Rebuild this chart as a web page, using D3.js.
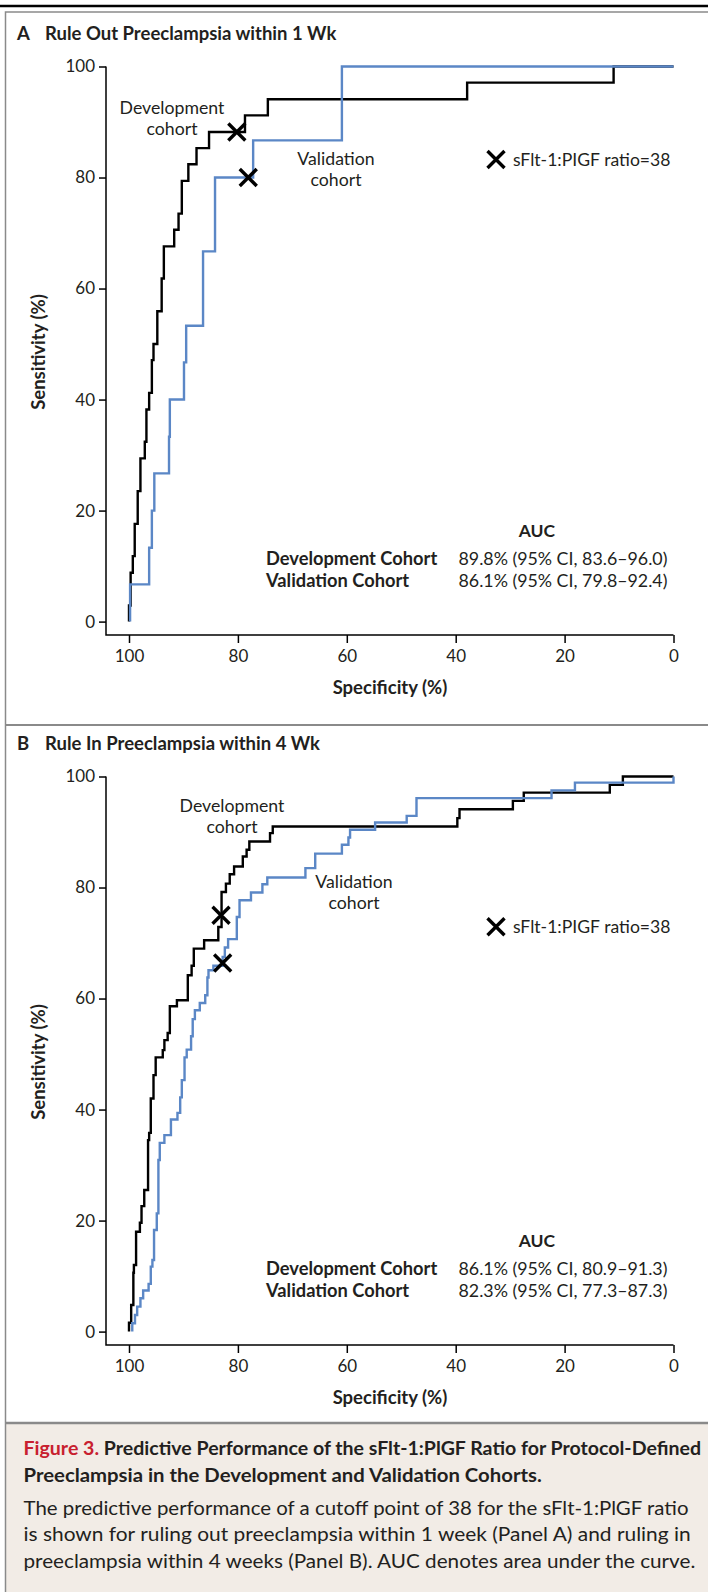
<!DOCTYPE html>
<html>
<head>
<meta charset="utf-8">
<script src="https://cdn.jsdelivr.net/npm/d3@7"></script>
<style>
  body { margin: 0; background: #fff; }
  svg text { font-family: Lato, "Open Sans", sans-serif; fill: #231f20; }
</style>
</head>
<body>
<script>
// ---- data ----
var tickValues = [0, 20, 40, 60, 80, 100];
var cohortNames = ["Development Cohort", "Validation Cohort"];

// Panel A: rule out within 1 wk (step points: specificity, sensitivity)
var devOutSpec = [100, 99.7, 99.3, 98.95, 98.4, 97.9, 97.1, 96.8, 96.3, 95.8, 95.5, 94.8, 94.0, 93.6, 91.7, 90.9, 90.3, 89.1, 87.6, 85.3, 78.7, 74.5, 37.9, 11, 0];
var devOutSens = [0, 2.9, 8.8, 11.8, 17.6, 23.5, 29.4, 32.4, 38.2, 41.2, 47.1, 50, 55.9, 61.8, 67.6, 70.6, 73.5, 79.4, 82.4, 85.3, 88.2, 91.2, 94.1, 97.1, 100];
var valOutSpec = [99.8, 96.3, 95.8, 95.35, 92.65, 92.5, 89.9, 89.5, 86.4, 84.2, 77.2, 60.9, 0];
var valOutSens = [0, 6.7, 13.3, 20, 26.7, 33.3, 40, 46.7, 53.3, 66.7, 80, 86.7, 100];
var cutOutSpec = [80.2, 78.1];
var cutOutSens = [88.2, 80];
var aucOut = ["89.8% (95% CI, 83.6\u201396.0)", "86.1% (95% CI, 79.8\u201392.4)"];

// Panel B: rule in within 4 wk
var devInSpec = [100, 99.6, 99.2, 99.1, 98.7, 98.0, 97.7, 97.2, 96.5, 96.3, 96.0, 95.5, 95.1, 93.8, 93.5, 92.9, 92.5, 91.2, 89.2, 88.5, 88.1, 86.2, 83.6, 83.0, 82.2, 81.5, 80.7, 79.1, 78.4, 77.9, 74.1, 73.6, 39.7, 39.3, 29.5, 27.5, 11.7, 9.3, 0];
var devInSens = [0, 1.6, 4.8, 10.6, 12.0, 18.0, 19.6, 22.6, 25.5, 34.5, 35.8, 42.0, 46.2, 49.4, 50.7, 52.5, 53.8, 58.6, 59.7, 64.2, 65.9, 69.0, 70.5, 72.9, 79.2, 80.7, 82.4, 83.8, 85.6, 86.8, 88.3, 89.8, 91.0, 92.5, 94.1, 95.6, 97.1, 98.5, 100];
var valInSpec = [99.4, 98.9, 98.5, 97.9, 97.4, 96.4, 96.0, 95.7, 95.4, 94.9, 94.6, 94.35, 93.5, 92.3, 91.1, 90.6, 90.3, 89.8, 89.4, 88.6, 88.3, 87.9, 87.0, 86.0, 85.6, 85.4, 84.5, 82.8, 82.4, 81.8, 80.2, 79.7, 77.6, 75.5, 74.6, 67.6, 65.8, 60.9, 59.7, 59.4, 54.8, 49.0, 47.2, 22.4, 18.1, 0, 0];
var valInSens = [0, 1.5, 3.0, 4.5, 6.0, 7.4, 8.6, 11.7, 12.9, 18.3, 21.3, 30.9, 34.0, 35.4, 38.2, 39.4, 42.2, 45.3, 49.4, 50.8, 53.2, 56.3, 57.9, 59.2, 60.6, 63.8, 65.1, 65.9, 67.5, 69.2, 70.7, 74.7, 77.7, 79.1, 80.6, 81.8, 83.5, 86.1, 87.7, 89.0, 90.4, 91.7, 92.9, 96.1, 97.5, 98.9, 100];
var cutInSpec = [83.1, 82.8];
var cutInSens = [75.0, 66.4];
var aucIn = ["86.1% (95% CI, 80.9\u201391.3)", "82.3% (95% CI, 77.3\u201387.3)"];

var captionBold = ["Predictive Performance of the sFlt-1:PlGF Ratio for Protocol-Defined",
                   "Preeclampsia in the Development and Validation Cohorts."];
var captionBody = ["The predictive performance of a cutoff point of 38 for the sFlt-1:PlGF ratio",
                   "is shown for ruling out preeclampsia within 1 week (Panel A) and ruling in",
                   "preeclampsia within 4 weeks (Panel B). AUC denotes area under the curve."];

// ---- layout ----
var W = 708, H = 1592;
var blue = "#5b87c6", grey = "#8a8a8a";

var svg = d3.select("body").append("svg")
    .attr("width", W)
    .attr("height", H);

// scales shared by both panels (panel B is shifted down)
var x = d3.scaleLinear().domain([100, 0]).range([129, 673.5]);
var y = d3.scaleLinear().domain([0, 100]).range([621.6, 66.5]);
var axisY = 635, axisX = 106;

// caption box + frame
svg.append("rect").attr("x", 5).attr("y", 1423).attr("width", W).attr("height", H - 1423)
    .attr("fill", "#f2ece6");
svg.append("line").attr("x1", 0).attr("x2", W).attr("y1", 6).attr("y2", 6)
    .attr("stroke", "#000").attr("stroke-width", 2.5);
svg.append("path").attr("d", "M5.5," + H + "V12H" + W)
    .attr("fill", "none").attr("stroke", grey).attr("stroke-width", 1.5);
svg.append("line").attr("x1", 5).attr("x2", W).attr("y1", 725).attr("y2", 725)
    .attr("stroke", grey).attr("stroke-width", 2);
svg.append("line").attr("x1", 5).attr("x2", W).attr("y1", 1423).attr("y2", 1423)
    .attr("stroke", grey).attr("stroke-width", 2.5);

var stepLine = d3.line()
    .x(function (d) { return x(d[0]); })
    .y(function (d) { return y(d[1]); })
    .curve(d3.curveStepBefore);

function xMark(g, cx, cy) {
    g.append("path")
        .attr("transform", "translate(" + cx + "," + cy + ")")
        .attr("d", "M-8.5,-8.5L8.5,8.5M-8.5,8.5L8.5,-8.5")
        .attr("stroke", "#000").attr("stroke-width", 3.4).attr("fill", "none");
}

function drawPanel(p) {
    var g = svg.append("g").attr("transform", "translate(0," + p.top + ")");

    // title
    g.append("text").attr("x", 17).attr("y", 40)
        .style("font-weight", 700).style("font-size", "18.5px").text(p.letter);
    g.append("text").attr("x", 45).attr("y", 40)
        .style("font-weight", 700).style("font-size", "18.5px").text(p.title);

    // axes
    var yAxis = g.append("g").attr("transform", "translate(" + axisX + ",0)")
        .call(d3.axisLeft(y).tickValues(tickValues).tickSize(7).tickPadding(4));
    var xAxis = g.append("g").attr("transform", "translate(0," + axisY + ")")
        .call(d3.axisBottom(x).tickValues(tickValues).tickSize(8).tickPadding(7));
    [yAxis, xAxis].forEach(function (a) {
        a.select(".domain").remove();
        a.selectAll("line").attr("stroke", "#000").attr("stroke-width", 1.5);
        a.selectAll("text").style("font-size", "17px").attr("fill", "#231f20")
            .style("font-family", "Lato, 'Open Sans', sans-serif");
    });
    g.append("path")
        .attr("d", "M" + axisX + "," + y(100) + "V" + axisY + "H" + x(0))
        .attr("fill", "none").attr("stroke", "#000").attr("stroke-width", 1.5);

    g.append("text")
        .attr("transform", "translate(45,352) rotate(-90)")
        .attr("text-anchor", "middle")
        .style("font-weight", 700).style("font-size", "18.5px")
        .text("Sensitivity (%)");
    g.append("text").attr("x", 390).attr("y", 694)
        .attr("text-anchor", "middle")
        .style("font-weight", 700).style("font-size", "18.5px")
        .text("Specificity (%)");

    // curves
    g.append("path").datum(d3.zip(p.devSpec, p.devSens))
        .attr("d", stepLine).attr("fill", "none")
        .attr("stroke", "#000").attr("stroke-width", 2.4);
    g.append("path").datum(d3.zip(p.valSpec, p.valSens))
        .attr("d", stepLine).attr("fill", "none")
        .attr("stroke", blue).attr("stroke-width", 2.4);

    // cutoff markers
    p.cutSpec.forEach(function (s, i) {
        xMark(g, x(s), y(p.cutSens[i]));
    });

    // curve labels
    p.labels.forEach(function (l) {
        var t = g.append("text").attr("text-anchor", "middle").style("font-size", "17.7px");
        t.append("tspan").attr("x", l.x).attr("y", l.y).text(l.lines[0]);
        t.append("tspan").attr("x", l.x).attr("y", l.y + 21).text(l.lines[1]);
    });

    // legend
    xMark(g, 496, p.legendY);
    g.append("text").attr("x", 513).attr("y", p.legendY + 6)
        .style("font-size", "17.6px").text("sFlt-1:PIGF ratio=38");

    // AUC table
    g.append("text").attr("x", 537).attr("y", 537).attr("text-anchor", "middle")
        .style("font-weight", 700).style("font-size", "17.5px").text("AUC");
    cohortNames.forEach(function (c, i) {
        g.append("text").attr("x", 266).attr("y", 564.5 + i * 22.3)
            .style("font-weight", 700).style("font-size", "18.3px").text(c);
        g.append("text").attr("x", 458.5).attr("y", 564.5 + i * 22.3)
            .style("font-size", "17.8px").text(p.auc[i]);
    });
}

drawPanel({
    top: 0, letter: "A", title: "Rule Out Preeclampsia within 1 Wk",
    devSpec: devOutSpec, devSens: devOutSens, valSpec: valOutSpec, valSens: valOutSens,
    cutSpec: cutOutSpec, cutSens: cutOutSens, auc: aucOut, legendY: 159.5,
    labels: [{x: 172, y: 113.5, lines: ["Development", "cohort"]},
             {x: 336, y: 165, lines: ["Validation", "cohort"]}]
});
drawPanel({
    top: 710, letter: "B", title: "Rule In Preeclampsia within 4 Wk",
    devSpec: devInSpec, devSens: devInSens, valSpec: valInSpec, valSens: valInSens,
    cutSpec: cutInSpec, cutSens: cutInSens, auc: aucIn, legendY: 216.7,
    labels: [{x: 232, y: 101.5, lines: ["Development", "cohort"]},
             {x: 354, y: 177.5, lines: ["Validation", "cohort"]}]
});

// caption
var cap = svg.append("g").attr("transform", "translate(23.5,0)");
var boldEnds = [677.5, 518.3], bodyEnds = [665, 667.2, 671.8];
captionBold.forEach(function (line, i) {
    var t = cap.append("text").attr("x", 0).attr("y", 1455 + i * 27)
        .style("font-weight", 700).style("font-size", "18.5px")
        .attr("textLength", boldEnds[i]).attr("lengthAdjust", "spacingAndGlyphs");
    if (i === 0) {
        t.append("tspan").attr("fill", "#c8202f").style("fill", "#c8202f").text("Figure 3. ");
    }
    t.append("tspan").text(line);
});
captionBody.forEach(function (line, i) {
    cap.append("text").attr("x", 0).attr("y", 1515 + i * 26.3)
        .style("font-size", "18.5px").attr("fill", "#333")
        .attr("textLength", bodyEnds[i]).attr("lengthAdjust", "spacingAndGlyphs")
        .text(line);
});
</script>
</body>
</html>
